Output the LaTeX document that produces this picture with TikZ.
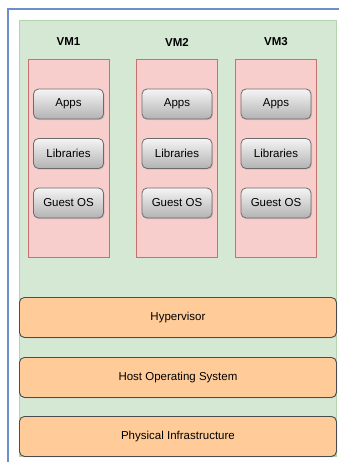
\documentclass[tikz,border=0pt]{standalone}
\usepackage{fontspec}
\setmainfont{Liberation Sans}
\usetikzlibrary{shadows}
\definecolor{frameblue}{HTML}{6A8FCC}
\definecolor{greenfill}{HTML}{D5E8D4}
\definecolor{greenline}{HTML}{B5D3AE}
\definecolor{redfill}{HTML}{F8CECC}
\definecolor{redline}{HTML}{C8716C}
\definecolor{orangefill}{HTML}{FFCC99}
\definecolor{darkline}{HTML}{4A4C50}
\definecolor{btnline}{HTML}{6B6B6B}
\begin{document}
\begin{tikzpicture}[x=1pt,y=-1pt,
  every node/.style={font=\fontsize{11.5}{13}\selectfont, inner sep=0pt},
  greenarea/.style={draw=greenline, fill=greenfill, line width=0.8pt},
  vmbox/.style={draw=redline, fill=redfill, line width=1pt, minimum width=81pt, minimum height=198pt, anchor=north},
  btn/.style={draw=btnline, rounded corners=5pt, top color=white!96!black, bottom color=black!30, line width=0.8pt,
     minimum width=70pt, minimum height=30pt, drop shadow={opacity=0.25, shadow xshift=1pt, shadow yshift=-1.2pt}},
  layer/.style={draw=darkline, fill=orangefill, rounded corners=5pt, line width=0.9pt,
     minimum width=317pt, minimum height=40pt, anchor=north west,
     drop shadow={opacity=0.2, shadow xshift=0.8pt, shadow yshift=-1pt}},
  vmlabel/.style={font=\fontsize{11.5}{13}\selectfont\bfseries}
]
\useasboundingbox (0,0) rectangle (339,462);
\fill[white] (0,0) rectangle (339,462);
% outer blue frame (cropped)
\draw[frameblue, line width=2pt] (8,470) -- (8,9) -- (345,9);
% green host area
\node[greenarea, minimum width=317pt, minimum height=436pt, anchor=north west] (host) at (19,20) {};
% VM labels
\node[vmlabel] (l1) at (68.5,42) {VM1};
\node[vmlabel] (l2) at (177,42) {VM2};
\node[vmlabel] (l3) at (276,42) {VM3};
% VM boxes
\node[vmbox] (vm1) at (68.5,59) {};
\node[vmbox] (vm2) at (177,59) {};
\node[vmbox] (vm3) at (276,59) {};
% buttons
\foreach \c/\n in {68.5/1,177/2,276/3}{
  \node[btn] (apps\n) at (\c,104) {Apps};
  \node[btn] (lib\n) at (\c,153.5) {Libraries};
  \node[btn] (gos\n) at (\c,203) {Guest OS};
}
% layers
\node[layer] (hyp) at (19,297) {Hypervisor};
\node[layer] (hos) at (19,357) {Host Operating System};
\node[layer] (phy) at (19,416) {Physical Infrastructure};
\end{tikzpicture}
\end{document}
